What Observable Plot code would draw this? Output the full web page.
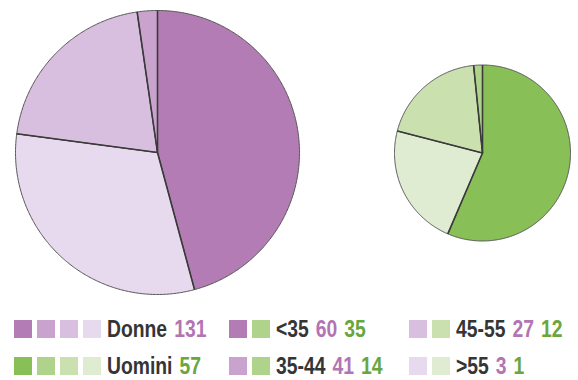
<!DOCTYPE html>
<html>
<head>
<meta charset="utf-8">
<script src="https://cdn.jsdelivr.net/npm/d3@7"></script>
<script src="https://cdn.jsdelivr.net/npm/@observablehq/plot@0.6"></script>
<style>
  body { margin: 0; background: #fff; font-family: "Liberation Sans", Arial, sans-serif; }
  #chart { position: relative; width: 578px; height: 380px; overflow: hidden; }
  #chart svg { display: block; }
  .legend { position: absolute; left: 0; top: 300px; width: 578px; height: 80px; }
  .item { position: absolute; display: flex; align-items: flex-start; height: 18px; }
  .sw { width: 18px; height: 18px; margin-right: 5px; flex: none; }
  .lab {
    font-weight: bold; font-size: 23px; line-height: 18px; color: #353535;
    white-space: nowrap; margin-left: 1px; word-spacing: 2px;
    transform: scaleX(0.84); transform-origin: 0 50%;
  }
</style>
</head>
<body>
<div id="chart"></div>
<script>
// Age groups and head counts for women (Donne) and men (Uomini)
const ageGroups = ["<35", "35-44", "45-55", ">55"];
const donne = [60, 41, 27, 3];
const uomini = [35, 14, 12, 1];
const groupNames = ["Donne", "Uomini"];
const groupTotals = [131, 57];

// Shade ramps, darkest first
const purples = ["#b47cb5", "#c9a3cd", "#d8bedf", "#e7daee"];
const greens = ["#88c057", "#b0d38c", "#cae0ae", "#dfecd2"];
const numberColors = ["#b374b4", "#69a640"];

// Which shade each slice uses, and which shade each age row shows in the legend
const sliceShade = [0, 3, 2, 1];
const legendPurpleShade = [0, 1, 2, 3];
const legendGreenShade = [1, 1, 2, 3];

// Pie layout (pixel units of the plot frame)
const W = 578, H = 300;
const pies = [
  {name: groupNames[0], values: donne, ramp: purples, cx: 157, cy: 152, r: 142},
  {name: groupNames[1], values: uomini, ramp: greens, cx: 482, cy: 152.5, r: 88}
];

const pie = d3.pie().sort(null).value(d => d);
const outline = [];   // filled slice outlines
const spokes = [];    // radial boundaries between slices
for (const p of pies) {
  pie(p.values).forEach((s, i) => {
    const key = p.name + i;
    const fill = p.ramp[sliceShade[i]];
    const px = a => p.cx + p.r * Math.sin(a);
    const py = a => p.cy - p.r * Math.cos(a);
    outline.push({key, fill, x: p.cx, y: p.cy});
    const n = Math.max(2, Math.ceil((s.endAngle - s.startAngle) / 0.01));
    for (let k = 0; k <= n; ++k) {
      const a = s.startAngle + (s.endAngle - s.startAngle) * k / n;
      outline.push({key, fill, x: px(a), y: py(a)});
    }
    outline.push({key, fill, x: p.cx, y: p.cy});
    spokes.push({x1: p.cx, y1: p.cy, x2: px(s.startAngle), y2: py(s.startAngle)});
  });
}

const plot = Plot.plot({
  width: W,
  height: H,
  margin: 0,
  x: {domain: [0, W], range: [0, W], axis: null},
  y: {domain: [0, H], range: [0, H], axis: null},
  color: {type: "identity"},
  marks: [
    Plot.line(outline, {x: "x", y: "y", z: "key", fill: "fill", stroke: "#555", strokeWidth: 1, strokeLinejoin: "round"}),
    Plot.link(spokes, {x1: "x1", y1: "y1", x2: "x2", y2: "y2", stroke: "#3a3a3a", strokeWidth: 1.6, strokeLinecap: "butt"})
  ]
});

const chart = document.getElementById("chart");
chart.appendChild(plot);

// Legend below the pies
const legend = document.createElement("div");
legend.className = "legend";
chart.appendChild(legend);

// numbers: list of [value, color] pairs shown after the label
function item(left, top, swatches, label, numbers) {
  const el = document.createElement("div");
  el.className = "item";
  el.style.left = left + "px";
  el.style.top = top + "px";
  for (const c of swatches) {
    const s = document.createElement("div");
    s.className = "sw";
    s.style.background = c;
    el.appendChild(s);
  }
  const t = document.createElement("div");
  t.className = "lab";
  t.appendChild(document.createTextNode(label));
  for (const [v, c] of numbers) {
    t.appendChild(document.createTextNode(" "));
    const n = document.createElement("span");
    n.textContent = v;
    n.style.color = c;
    t.appendChild(n);
  }
  el.appendChild(t);
  legend.appendChild(el);
}

const rowTop = [20, 57];
const colLeft = [14, 229, 409];
item(colLeft[0], rowTop[0], purples, groupNames[0], [[groupTotals[0], numberColors[0]]]);
item(colLeft[0], rowTop[1], greens, groupNames[1], [[groupTotals[1], numberColors[1]]]);
ageGroups.forEach((g, i) => {
  const col = 1 + Math.floor(i / 2), row = i % 2;
  item(colLeft[col], rowTop[row],
       [purples[legendPurpleShade[i]], greens[legendGreenShade[i]]],
       g, [[donne[i], numberColors[0]], [uomini[i], numberColors[1]]]);
});
</script>
</body>
</html>
